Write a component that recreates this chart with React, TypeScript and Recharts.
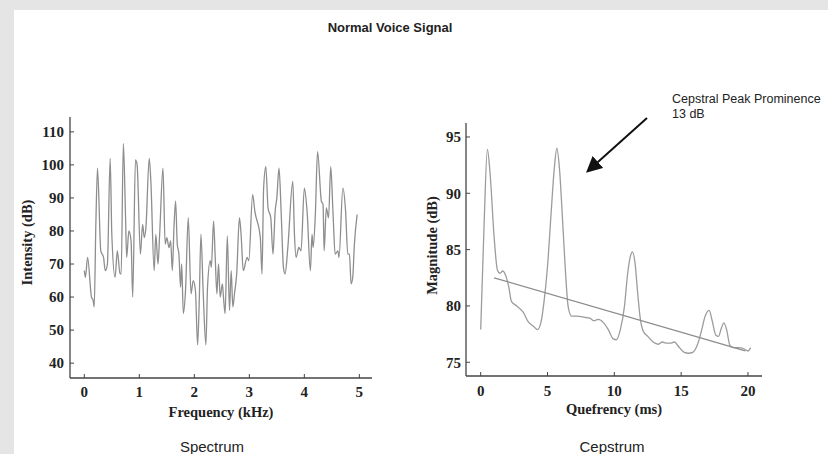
import { LineChart, Line, XAxis, YAxis } from 'recharts';

// ── Data ─────────────────────────────────────────────────
const specFreq = [
  0, 0.02, 0.06, 0.13, 0.16, 0.18, 0.21, 0.24, 0.3, 0.35,
  0.38, 0.42, 0.47, 0.5, 0.56, 0.6, 0.65, 0.67, 0.71, 0.75,
  0.77, 0.81, 0.85, 0.88, 0.93, 0.96, 1.02, 1.06, 1.09, 1.12,
  1.18, 1.21, 1.27, 1.3, 1.34, 1.37, 1.43, 1.47, 1.5, 1.54,
  1.57, 1.6, 1.63, 1.66, 1.69, 1.72, 1.75, 1.77, 1.8, 1.84,
  1.89, 1.94, 1.98, 2.02, 2.06, 2.09, 2.12, 2.16, 2.21, 2.24,
  2.29, 2.31, 2.35, 2.38, 2.41, 2.44, 2.47, 2.51, 2.53, 2.56,
  2.6, 2.64, 2.67, 2.7, 2.73, 2.77, 2.82, 2.85, 2.89, 2.96,
  2.99, 3.06, 3.1, 3.2, 3.23, 3.26, 3.3, 3.34, 3.39, 3.43,
  3.47, 3.5, 3.54, 3.58, 3.62, 3.65, 3.7, 3.79, 3.82, 3.85,
  3.9, 3.94, 4.0, 4.05, 4.11, 4.14, 4.16, 4.2, 4.24, 4.31,
  4.34, 4.36, 4.4, 4.44, 4.48, 4.52, 4.56, 4.61, 4.63, 4.7,
  4.75, 4.79, 4.82, 4.85, 4.88, 4.91, 4.96,
];
const specIntensity = [
  68, 66, 72, 60, 59, 57, 82, 99, 74, 72,
  68, 70, 102, 79, 66, 74, 67, 67, 106.5, 84,
  72, 80, 77, 60, 101.5, 100, 73, 82, 78, 81,
  102, 95, 68, 79, 70, 79, 99, 76, 78, 75,
  77, 68, 81, 89, 76, 73, 63, 70, 55, 62,
  84, 61, 65, 62, 45.5, 59, 79, 62, 45.5, 63,
  71, 69, 83, 72, 61, 70, 60, 64, 60, 55,
  78.5, 56, 68, 57, 61, 67, 84, 79, 68, 72,
  71, 91, 86, 78, 67, 93, 99.5, 87, 84, 73,
  86, 90, 99, 85, 69, 67, 75, 95, 79, 72,
  75, 74, 93, 86, 68, 79, 75, 85, 104, 89,
  88, 74, 87, 84, 99.5, 86, 73, 74, 72, 93,
  86, 73, 73, 64, 66, 76, 85,
];
const specTicksX = [0, 1, 2, 3, 4, 5];
const specTicksY = [40, 50, 60, 70, 80, 90, 100, 110];

const cepQ = [
  0, 0.25, 0.5, 0.7, 1.0, 1.25, 1.45, 1.65, 1.9, 2.1,
  2.3, 2.7, 3.2, 3.55, 3.95, 4.25, 4.5, 4.75, 5.0, 5.25,
  5.5, 5.7, 5.9, 6.15, 6.35, 6.55, 6.8, 7.2, 7.7, 8.2,
  8.45, 8.8, 9.2, 9.55, 9.9, 10.15, 10.45, 10.75, 11.0, 11.2,
  11.35, 11.55, 11.75, 11.95, 12.15, 12.5, 12.9, 13.3, 13.6, 13.9,
  14.2, 14.5, 14.8, 15.2, 15.55, 15.9, 16.2, 16.5, 16.8, 17.1,
  17.3, 17.6, 17.8, 18.0, 18.2, 18.4, 18.65, 18.9, 19.3, 19.7,
  20.0, 20.2,
];
const cepMag = [
  77.9, 87.1, 93.9, 91.8, 86.2, 83.2, 82.9, 83.1, 82.6, 81.7,
  80.4, 80.0, 79.4, 78.6, 78.2, 77.9, 78.5, 80.5, 83.5, 87.9,
  92.1, 94.0, 92.1, 87.1, 82.9, 79.9, 79.1, 79.1, 79.0, 78.9,
  78.7, 78.8, 78.5, 77.9, 77.1, 77.0, 77.9, 79.9, 82.9, 84.4,
  84.8, 83.8, 81.1, 78.8, 77.8, 77.3, 76.8, 76.6, 76.8, 76.7,
  76.7, 76.8, 76.4, 75.9, 75.8, 75.9, 76.5, 77.7, 79.1, 79.6,
  78.8, 77.4, 77.3, 78.0, 78.5, 77.9, 76.5, 76.3, 76.3, 76.2,
  76.0, 76.3,
];
// regression line end points
const trendQ = [1.0, 19.8];
const trendMag = [82.5, 76.0];
const cepTicksX = [0, 5, 10, 15, 20];
const cepTicksY = [75, 80, 85, 90, 95];

const spectrum = specFreq.map((f, i) => ({ f, v: specIntensity[i] }));
const cepstrum = cepQ.map((q, i) => ({ q, v: cepMag[i] }));
const trend = trendQ.map((q, i) => ({ q, v: trendMag[i] }));

// ── Styles ───────────────────────────────────────────────
const SERIF = '"Liberation Serif", "Times New Roman", serif';
const SANS = '"Liberation Sans", Arial, sans-serif';
const tickStyle = { fill: '#222', fontSize: 15, fontFamily: SERIF, fontWeight: 700 };
const labelStyle = { fill: '#222', fontSize: 14.5, fontFamily: SERIF, fontWeight: 700 };
const axisLine = { stroke: '#444', strokeWidth: 1.3 };

const caption = (text: string, x: number, y: number, extra = {}) => (
  <div
    style={{
      position: 'absolute',
      left: x,
      top: y,
      transform: 'translateX(-50%)',
      whiteSpace: 'nowrap',
      fontFamily: SANS,
      color: '#222',
      ...extra,
    }}
  >
    {text}
  </div>
);

export default function App() {
  return (
    <div
      style={{
        position: 'absolute',
        left: 0,
        top: 0,
        width: 828,
        height: 454,
        background: '#e5e5e5',
        overflow: 'hidden',
      }}
    >
      <div
        style={{ position: 'absolute', left: 14, top: 10, right: 0, bottom: 0, background: '#fff' }}
      />

      {caption('Normal Voice Signal', 390, 20, { fontSize: 13, fontWeight: 700, lineHeight: '16px' })}

      {/* Spectrum */}
      <div style={{ position: 'absolute', left: 0, top: 0 }}>
        <LineChart
          width={400}
          height={454}
          data={spectrum}
          margin={{ top: 117, right: 28, bottom: 46, left: 30 }}
        >
          <XAxis
            dataKey="f"
            type="number"
            domain={[-0.26, 5.23]}
            ticks={specTicksX}
            allowDataOverflow
            height={30}
            tickSize={-4}
            tickMargin={12}
            tick={tickStyle}
            tickLine={{ stroke: '#444' }}
            axisLine={axisLine}
            label={{ value: 'Frequency (kHz)', position: 'bottom', offset: -1, style: labelStyle }}
          />
          <YAxis
            dataKey="v"
            type="number"
            domain={[35.5, 114.5]}
            ticks={specTicksY}
            allowDataOverflow
            width={40}
            tickSize={-4}
            tickMargin={10}
            tick={tickStyle}
            tickLine={{ stroke: '#444' }}
            axisLine={axisLine}
            label={{
              value: 'Intensity (dB)',
              angle: -90,
              position: 'insideLeft',
              offset: -3,
              dy: -5,
              style: { ...labelStyle, textAnchor: 'middle' },
            }}
          />
          <Line
            type="monotone"
            dataKey="v"
            stroke="#8e8e8e"
            strokeWidth={1.3}
            dot={false}
            isAnimationActive={false}
          />
        </LineChart>
      </div>

      {/* Cepstrum */}
      <div style={{ position: 'absolute', left: 400, top: 0 }}>
        <LineChart
          width={400}
          height={454}
          margin={{ top: 123, right: 38, bottom: 48, left: 26 }}
        >
          <XAxis
            dataKey="q"
            type="number"
            domain={[-1.1, 21.05]}
            ticks={cepTicksX}
            allowDataOverflow
            height={30}
            tickSize={-4}
            tickMargin={13}
            tick={tickStyle}
            tickLine={{ stroke: '#444' }}
            axisLine={axisLine}
            label={{ value: 'Quefrency (ms)', position: 'bottom', offset: -2, style: labelStyle }}
          />
          <YAxis
            dataKey="v"
            type="number"
            domain={[73.78, 96.24]}
            ticks={cepTicksY}
            allowDataOverflow
            width={40}
            tickSize={-4}
            tickMargin={9}
            tick={tickStyle}
            tickLine={{ stroke: '#444' }}
            axisLine={axisLine}
            label={{
              value: 'Magnitude (dB)',
              angle: -90,
              position: 'insideLeft',
              offset: 6,
              dy: -4,
              style: { ...labelStyle, textAnchor: 'middle' },
            }}
          />
          <Line
            data={cepstrum}
            type="monotone"
            dataKey="v"
            stroke="#9c9c9c"
            strokeWidth={1.3}
            dot={false}
            isAnimationActive={false}
          />
          <Line
            data={trend}
            type="linear"
            dataKey="v"
            stroke="#8c8c8c"
            strokeWidth={1.3}
            dot={false}
            isAnimationActive={false}
          />
        </LineChart>
      </div>

      {/* annotation */}
      <div
        style={{
          position: 'absolute',
          left: 672,
          top: 92,
          fontFamily: SANS,
          fontSize: 12.5,
          lineHeight: '15px',
          color: '#222',
          whiteSpace: 'nowrap',
        }}
      >
        Cepstral Peak Prominence
        <br />
        13 dB
      </div>
      <svg
        width={828}
        height={454}
        style={{ position: 'absolute', left: 0, top: 0, pointerEvents: 'none' }}
      >
        <defs>
          <marker id="arrow" markerWidth="8" markerHeight="8" refX="6" refY="4" orient="auto">
            <path d="M0,0 L8,4 L0,8 Z" fill="#111" />
          </marker>
        </defs>
        <line x1={647} y1={118} x2={589} y2={170} stroke="#111" strokeWidth={2} markerEnd="url(#arrow)" />
      </svg>

      {caption('Spectrum', 212, 438, { fontSize: 15, lineHeight: '18px' })}
      {caption('Cepstrum', 612, 438, { fontSize: 15, lineHeight: '18px' })}
    </div>
  );
}
